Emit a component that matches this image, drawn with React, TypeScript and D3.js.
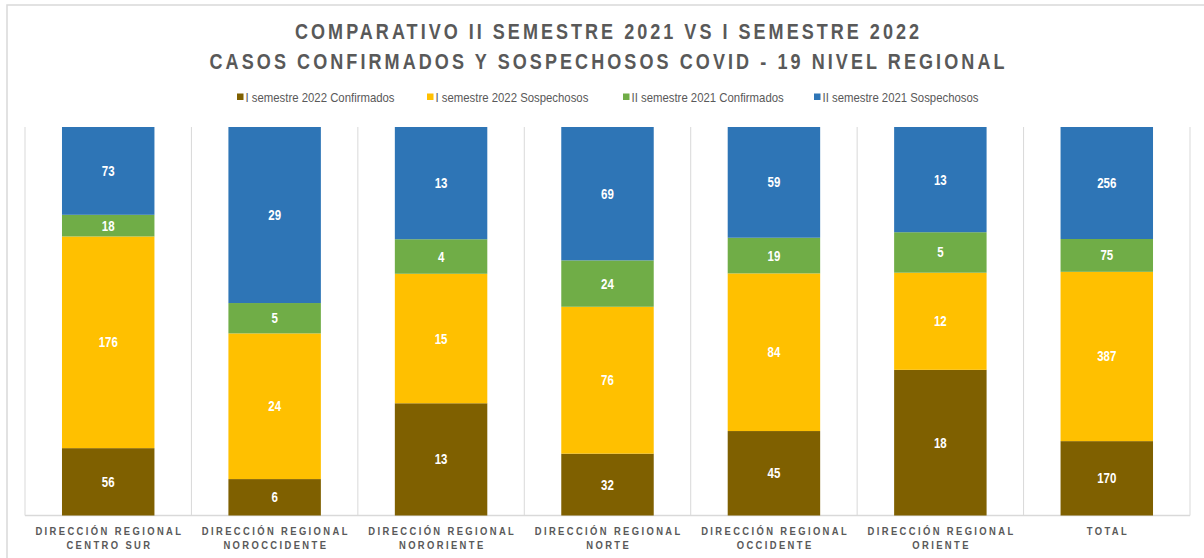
import React from "react";
import * as d3 from "d3";

const categories = [
  ["DIRECCIÓN REGIONAL", "CENTRO SUR"],
  ["DIRECCIÓN REGIONAL", "NOROCCIDENTE"],
  ["DIRECCIÓN REGIONAL", "NORORIENTE"],
  ["DIRECCIÓN REGIONAL", "NORTE"],
  ["DIRECCIÓN REGIONAL", "OCCIDENTE"],
  ["DIRECCIÓN REGIONAL", "ORIENTE"],
  ["TOTAL"],
];

const seriesNames = [
  "I semestre 2022 Confirmados",
  "I semestre 2022 Sospechosos",
  "II semestre 2021 Confirmados",
  "II semestre 2021 Sospechosos",
];

const conf2022 = [56, 6, 13, 32, 45, 18, 170];
const sosp2022 = [176, 24, 15, 76, 84, 12, 387];
const conf2021 = [18, 5, 4, 24, 19, 5, 75];
const sosp2021 = [73, 29, 13, 69, 59, 13, 256];

const seriesColors = ["#7F6000", "#FFC000", "#70AD47", "#2E75B6"];

const titleLines = [
  "COMPARATIVO II SEMESTRE 2021 VS I SEMESTRE 2022",
  "CASOS CONFIRMADOS Y SOSPECHOSOS COVID - 19 NIVEL REGIONAL",
];

const W = 1204;
const H = 558;
const plot = { left: 25, right: 1190, top: 127, bottom: 515.5 };
const legendX = [237, 427, 623, 814];
const titleWidths = [624, 795];
const FONT = "'Liberation Sans', Arial, sans-serif";
const NARROW = 0.82;

export default function App() {
  const series = [conf2022, sosp2022, conf2021, sosp2021];
  const keys = categories.map((_, i) => String(i));
  const x = d3.scaleBand<string>().domain(keys).range([plot.left, plot.right]).padding(0);
  const y = d3.scaleLinear().domain([0, 1]).range([plot.bottom, plot.top]);
  const barW = x.bandwidth() / 1.8;

  const rows = categories.map((_, i) => {
    const r: any = { key: String(i) };
    series.forEach((s, j) => (r["s" + j] = s[i]));
    return r;
  });
  const stack = d3
    .stack<any>()
    .keys(series.map((_, j) => "s" + j))
    .offset(d3.stackOffsetExpand);
  const stacked = stack(rows);
  const catSpacing = 2.9;

  return (
    <svg
      width={W}
      height={H}
      style={{ position: "absolute", left: 0, top: 0, background: "#fff" }}
    >
      <rect x={0} y={0} width={W} height={H} fill="#fff" />
      <rect x={7} y={5} width={W + 20} height={H + 20} fill="none" stroke="#d9d9d9" strokeWidth={1.5} />

      {/* Title */}
      {titleLines.map((t, i) => (
        <text
          key={i}
          transform={`translate(607,${39 + i * 30}) scale(${NARROW},1)`}
          textAnchor="middle"
          fill="#595959"
          fontFamily={FONT}
          fontWeight="bold"
          fontSize={22}
          textLength={titleWidths[i] / NARROW}
          lengthAdjust="spacing"
        >
          {t}
        </text>
      ))}

      {/* Legend */}
      {seriesNames.map((n, i) => (
        <g key={n} transform={`translate(${legendX[i]},97)`}>
          <rect x={0} y={-3.5} width={6.5} height={6.5} fill={seriesColors[i]} />
          <text
            transform={`translate(8.5,4.5) scale(0.91,1)`}
            fill="#595959"
            fontFamily={FONT}
            fontSize={12.5}
          >
            {n}
          </text>
        </g>
      ))}

      {/* Gridlines */}
      {keys.concat(["end"]).map((k, i) => {
        const gx = i < keys.length ? (x(k) as number) : plot.right;
        return (
          <line key={k} x1={gx} x2={gx} y1={plot.top} y2={plot.bottom} stroke="#d9d9d9" strokeWidth={1} />
        );
      })}
      <line x1={plot.left} x2={plot.right} y1={plot.bottom} y2={plot.bottom} stroke="#d9d9d9" strokeWidth={1.5} />

      {/* Bars */}
      {stacked.map((layer, j) => (
        <g key={layer.key} fill={seriesColors[j]}>
          {layer.map((d, i) => {
            const cx = (x(keys[i]) as number) + x.bandwidth() / 2;
            const y0 = y(d[0]);
            const y1 = y(d[1]);
            return (
              <g key={i}>
                <rect x={cx - barW / 2} y={y1} width={barW} height={y0 - y1} />
                <text
                  transform={`translate(${cx},${(y0 + y1) / 2 + 5}) scale(${NARROW},1)`}
                  textAnchor="middle"
                  fill="#fff"
                  fontFamily={FONT}
                  fontWeight="bold"
                  fontSize={14}
                >
                  {series[j][i]}
                </text>
              </g>
            );
          })}
        </g>
      ))}

      {/* Category labels */}
      {categories.map((lines, i) => {
        const cx = (x(keys[i]) as number) + x.bandwidth() / 2;
        return (
          <text
            key={i}
            transform={`translate(${cx},0) scale(${NARROW},1)`}
            textAnchor="middle"
            fill="#595959"
            fontFamily={FONT}
            fontWeight="bold"
            fontSize={11.5}
            letterSpacing={catSpacing}
          >
            {lines.map((l, k) => (
              <tspan key={k} x={catSpacing / 2} y={535 + k * 14}>
                {l}
              </tspan>
            ))}
          </text>
        );
      })}
    </svg>
  );
}
